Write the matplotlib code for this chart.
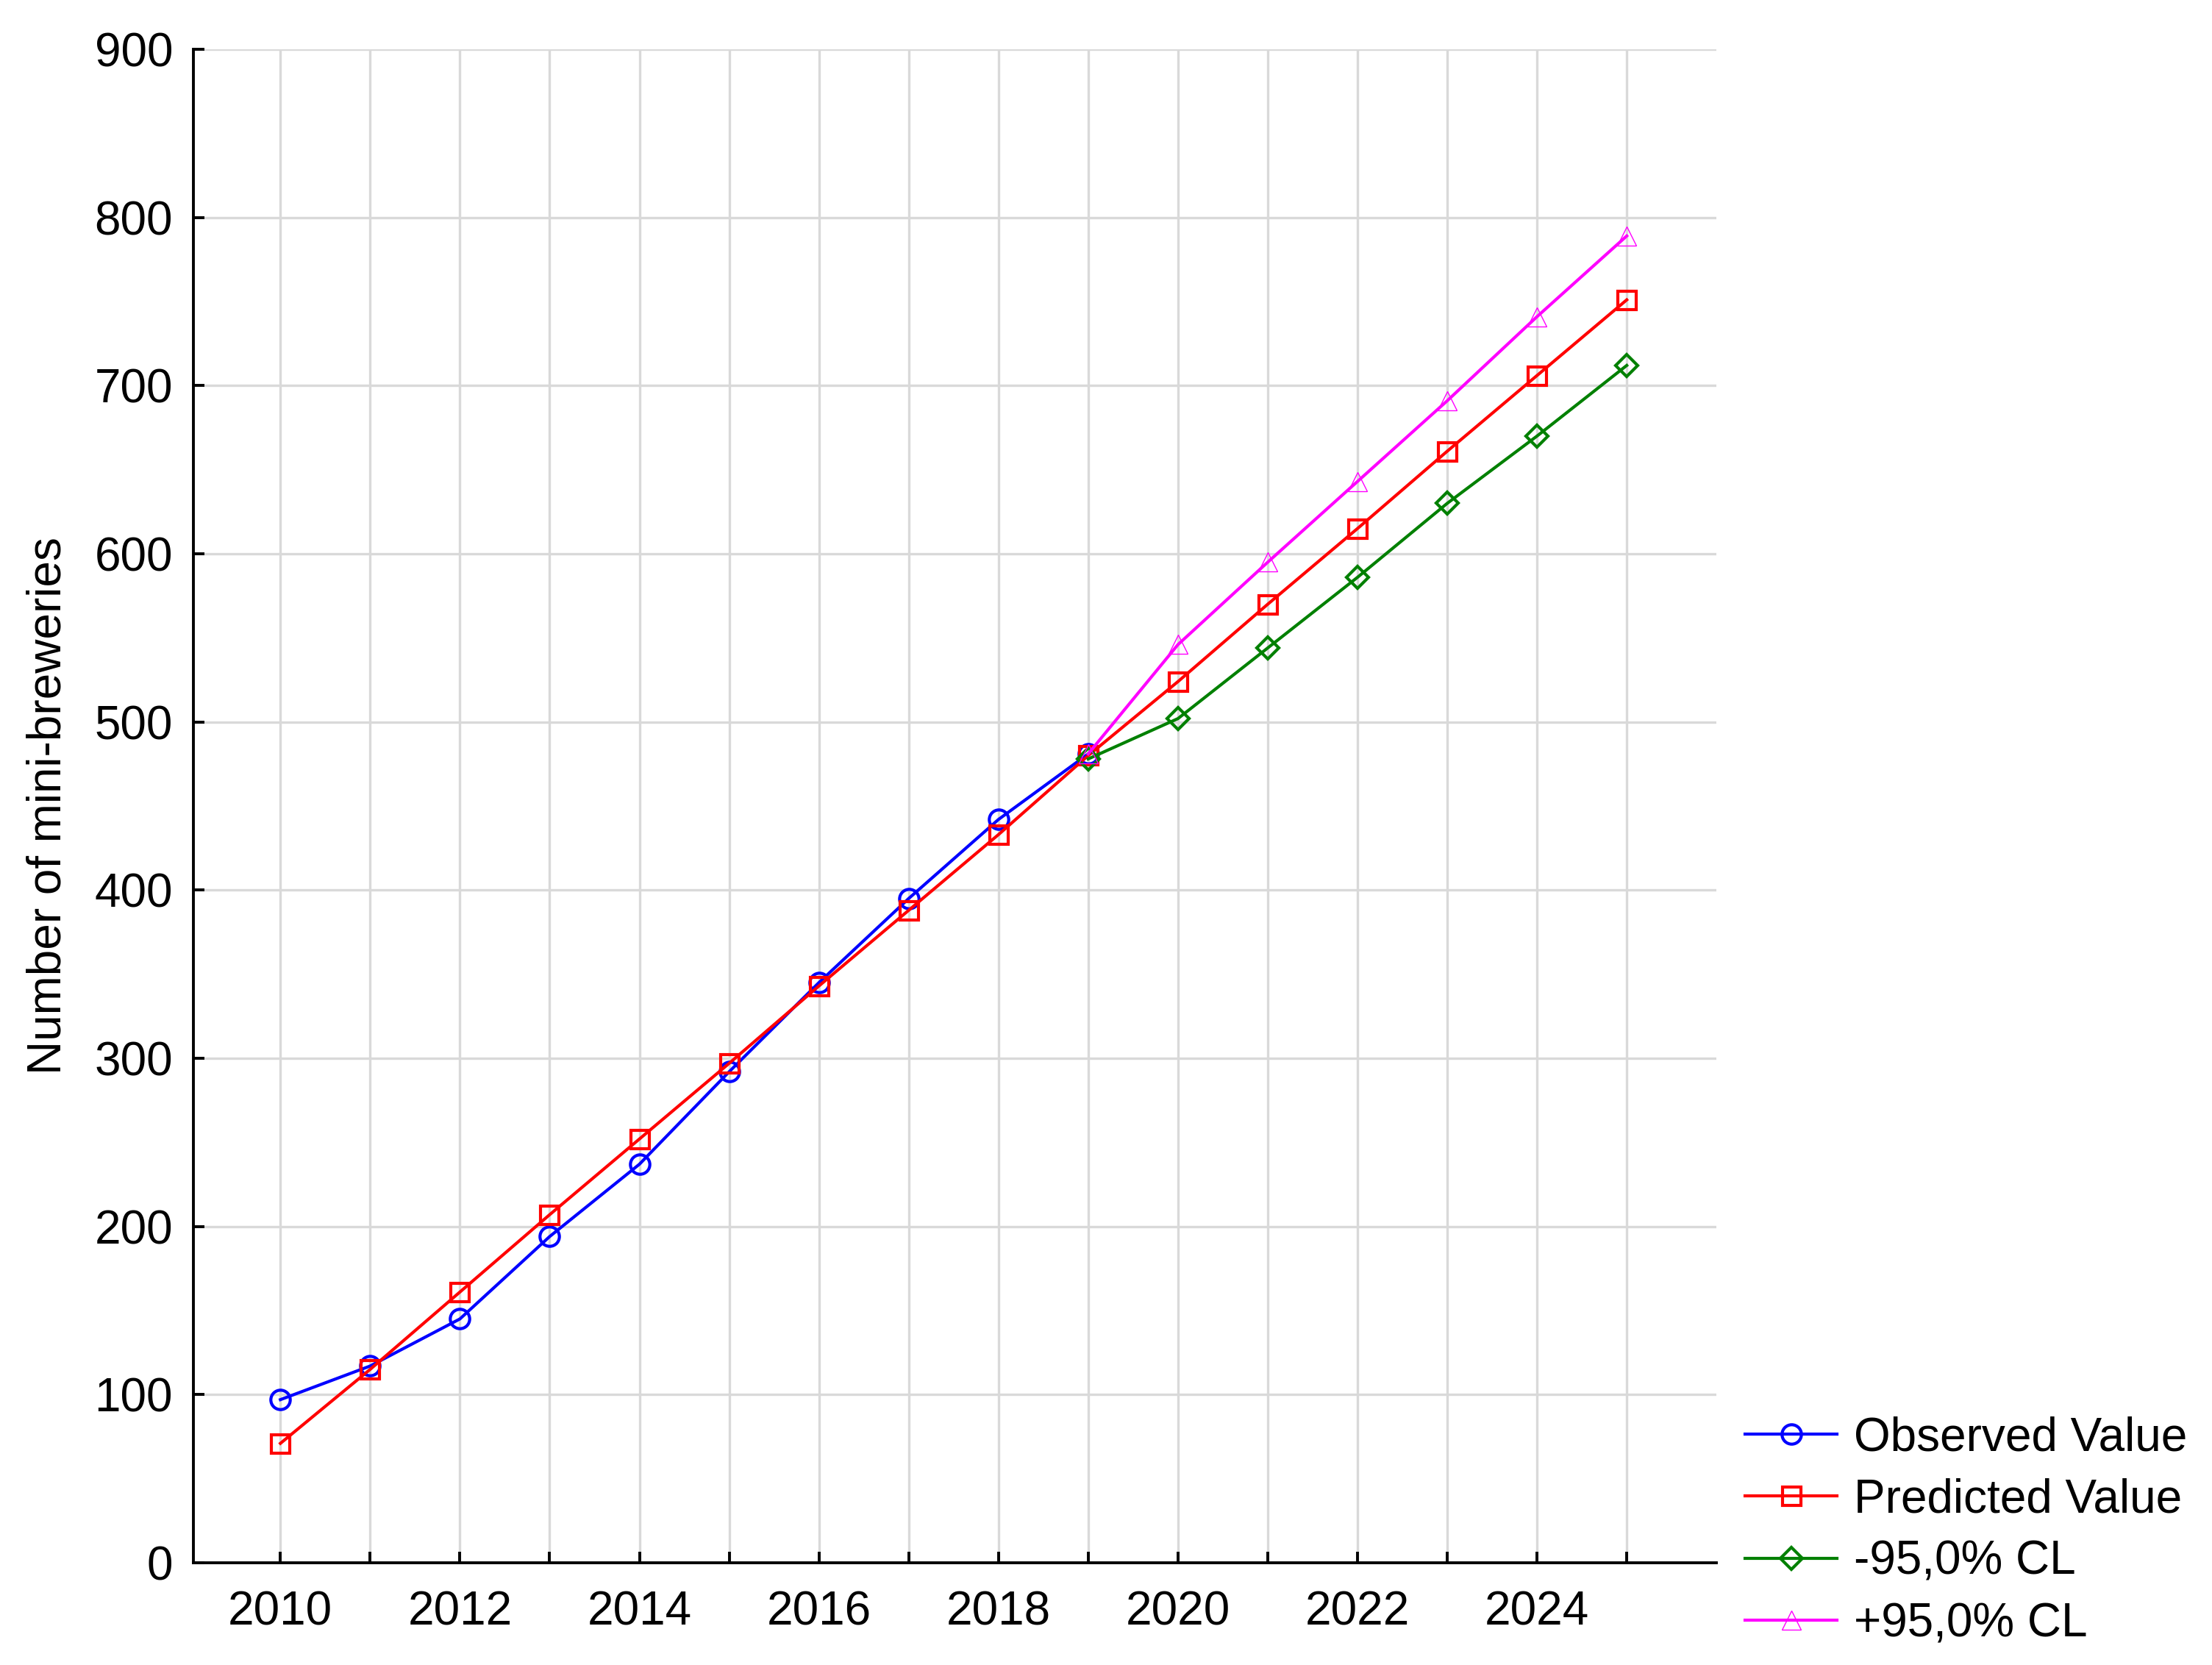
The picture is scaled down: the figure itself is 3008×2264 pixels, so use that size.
import matplotlib
matplotlib.use("Agg")
import matplotlib.pyplot as plt

plt.rcParams['font.family'] = ['Liberation Sans', 'DejaVu Sans']

# years
years_obs = [2010, 2011, 2012, 2013, 2014, 2015, 2016, 2017, 2018, 2019]
years_pred = [2010, 2011, 2012, 2013, 2014, 2015, 2016, 2017, 2018, 2019,
              2020, 2021, 2022, 2023, 2024, 2025]
years_cl = [2019, 2020, 2021, 2022, 2023, 2024, 2025]

# number of mini-breweries
observed = [97, 117, 145, 194, 237, 292, 345, 395, 442, 481]
predicted = [71, 115, 161, 207, 252, 297, 343, 388, 433, 480,
             524, 570, 615, 661, 706, 751]
lower_cl = [478, 502, 544, 586, 630, 670, 712]
upper_cl = [481, 546, 595, 643, 691, 741, 789]

yticks = [0, 100, 200, 300, 400, 500, 600, 700, 800, 900]
xtick_years = list(range(2010, 2026))

fig = plt.figure(figsize=(30.08, 22.64), dpi=100)
ax = fig.add_axes([0.0874, 0.0614, 0.776 - 0.0874, 0.9704 - 0.0614])

fs = 46
lw = 3
ms = 19

ax.plot(years_obs, observed, color='#0000ff', lw=lw, marker='o', ms=ms,
        mfc='none', mew=3, label='Observed Value')
ax.plot(years_pred, predicted, color='#ff0000', lw=lw, marker='s', ms=ms - 1,
        mfc='none', mew=3, label='Predicted Value')
ax.plot(years_cl, lower_cl, color='#008000', lw=lw, marker='D', ms=ms - 4,
        mfc='none', mew=3, label='-95,0% CL')
ax.plot(years_cl, upper_cl, color='#ff00ff', lw=lw, marker='^', ms=ms,
        mfc='none', mew=1, label='+95,0% CL')

ax.set_xlim(2009.03, 2026)
ax.set_ylim(0, 900)
ax.set_yticks(yticks)
ax.set_xticks(xtick_years)
ax.set_xticklabels([str(y) if y % 2 == 0 else '' for y in xtick_years])

ax.grid(True, color='#d9d9d9', lw=2.4)
ax.set_axisbelow(True)
for s in ['top', 'right']:
    ax.spines[s].set_visible(False)
for s in ['left', 'bottom']:
    ax.spines[s].set_linewidth(2.8)
    ax.spines[s].set_color('black')

ax.tick_params(axis='both', direction='in', length=11, width=2.8,
               labelsize=fs, colors='black')
ax.tick_params(axis='x', pad=27)
ax.tick_params(axis='y', pad=20)

ax.set_ylabel('Number of mini-breweries', fontsize=fs, labelpad=24)

fig.legend(loc='center left', bbox_to_anchor=(0.789, 0.0805),
           frameon=False, fontsize=fs, handlelength=1.95, handletextpad=0.36,
           labelspacing=0.38, borderpad=0, borderaxespad=0)

fig.savefig('out.png', dpi=100)
